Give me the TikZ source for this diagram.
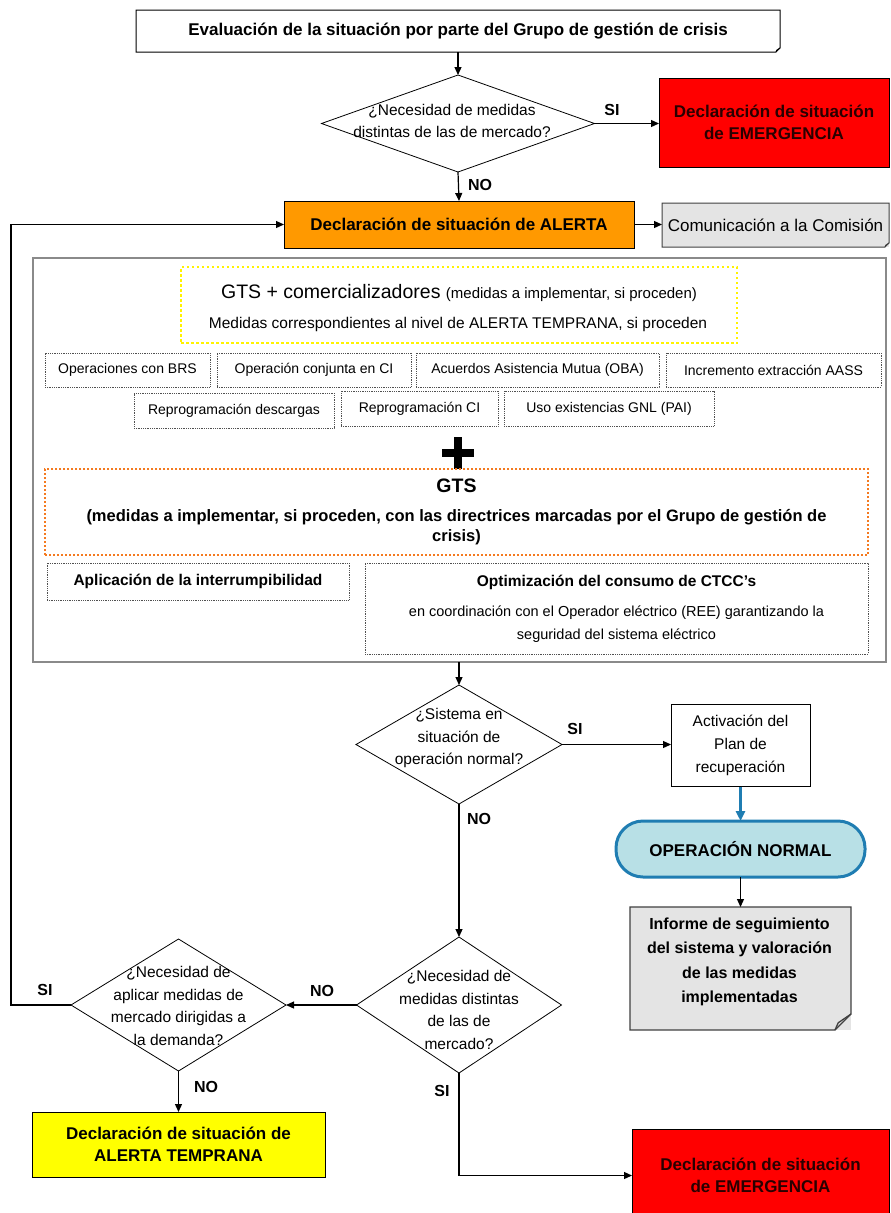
\documentclass[tikz,border=0pt]{standalone}
\usepackage{fontspec}
\setmainfont{Liberation Sans}
\usetikzlibrary{arrows.meta,shapes.geometric,calc}

\definecolor{alertorange}{HTML}{FF9900}
\definecolor{emred}{HTML}{FF0000}
\definecolor{emtext}{HTML}{2A0000}
\definecolor{earlyyellow}{HTML}{FFFF00}
\definecolor{notegrey}{HTML}{E4E4E4}
\definecolor{noteedge}{HTML}{404040}
\definecolor{framegrey}{HTML}{8A8A8A}
\definecolor{pillblue}{HTML}{1F7DB2}
\definecolor{pillfill}{HTML}{B8E0E6}
\definecolor{dotorange}{HTML}{F47A20}
\definecolor{dotyellow}{HTML}{FFF200}
\definecolor{dotgrey}{HTML}{505050}

% outline of a box whose lower right corner is folded over
\newcommand\drawfold[3][]{%
  \draw[#1] (#2.north west) -- (#2.north east) -- ([yshift=#3]#2.south east)
    -- ([xshift=-#3]#2.south east) -- (#2.south west) -- cycle;
  \draw[#1] ([yshift=#3]#2.south east) -- ([xshift=-#3*0.8,yshift=#3*0.45]#2.south east)
    -- ([xshift=-#3]#2.south east);
}

\begin{document}
\begin{tikzpicture}[x=1pt,y=-1pt,
  every node/.style={inner sep=0pt, outer sep=0pt},
  flow/.style={line width=1.2pt, -{Triangle[length=8pt,width=7pt]}},
  boxtxt/.style={font=\fontsize{17}{22}\selectfont\bfseries, align=center},
  ask/.style={diamond, draw, line width=0.8pt, fill=white},
  asktxt/.style={font=\fontsize{15.5}{22.5}\selectfont, align=center},
  measure/.style={draw=dotgrey, densely dotted, line width=0.8pt,
                  font=\fontsize{14}{17}\selectfont},
  answer/.style={font=\fontsize{16}{18}\selectfont\bfseries},
  emergency/.style={draw, line width=0.8pt, fill=emred, boxtxt, text=emtext},
]
\useasboundingbox (0,0) rectangle (891,1213);
\fill[white] (0,0) rectangle (891,1213);

% ---------- top of the chart ----------
\node[boxtxt, fill=white, minimum width=644, minimum height=42] (eval) at (458,31)
  {Evaluación de la situación por parte del Grupo de gestión de crisis};
\drawfold[line width=1pt]{eval}{4}

\node[ask, minimum width=273, minimum height=97] (d1) at (458,123.5) {};
\node[asktxt] (d1t) at (452,121) {¿Necesidad de medidas\\distintas de las de mercado?};

\node[emergency, minimum width=230, minimum height=89] (em1) at (774,122.5)
  {Declaración de situación\\de EMERGENCIA};

\node[boxtxt, draw, line width=0.8pt, fill=alertorange, minimum width=350, minimum height=47]
  (alert) at (459,224.5) {Declaración de situación de ALERTA};

\node[fill=notegrey, minimum width=227, minimum height=44,
      font=\fontsize{17}{20}\selectfont] (com) at (775.5,225) {Comunicación a la Comisión};
\drawfold[line width=1pt, draw=noteedge]{com}{4}

\draw[flow] (eval.south) -- (d1.north);
\draw[flow] (d1.east) -- (d1.east -| em1.west);
\draw[flow] (d1.south) -- (alert.north);
\draw[flow] (alert.east) -- (alert.east -| com.west);
\node[answer] (si1) at (612,110) {SI};
\node[answer] (no1) at (480,185) {NO};

% ---------- measures frame ----------
\node[draw=framegrey, line width=2.5pt, minimum width=853, minimum height=404] (frame)
  at (459.5,460) {};

\node[draw=dotyellow, line width=2.5pt, dash pattern=on 2.5pt off 2.5pt,
      minimum width=556, minimum height=76] (gtsc) at (459,305) {};
\node[font=\fontsize{19.5}{22}\selectfont] (gtsct) at (459,293)
  {GTS + comercializadores {\fontsize{15}{18}\selectfont(medidas a implementar, si proceden)}};
\node[font=\fontsize{15.5}{18}\selectfont] (gtscb) at (458,324)
  {Medidas correspondientes al nivel de ALERTA TEMPRANA, si proceden};

\node[measure, minimum width=165, minimum height=34] (m1) at (127.5,370) {Operaciones con BRS};
\node[measure, minimum width=194, minimum height=34] (m2) at (314,370) {Operación conjunta en CI};
\node[measure, minimum width=243, minimum height=34] (m3) at (537.5,370) {Acuerdos Asistencia Mutua (OBA)};
\node[measure, minimum width=215, minimum height=34] (m4) at (773.5,370) {Incremento extracción AASS};
\node[measure, minimum width=200, minimum height=35] (m5) at (234,410.5) {Reprogramación descargas};
\node[measure, minimum width=157, minimum height=35] (m6) at (419.5,408.5) {Reprogramación CI};
\node[measure, minimum width=210, minimum height=35] (m7) at (609,408.5) {Uso existencias GNL (PAI)};

% heavy plus sign joining both groups of measures
\node[minimum size=32] (plus) at (458,453) {};
\draw[line width=8pt] (plus.west) -- (plus.east);
\draw[line width=8pt] (plus.north) -- (plus.south);

\node[draw=dotorange, line width=2pt, dash pattern=on 2pt off 2pt,
      minimum width=823, minimum height=86] (gts) at (456.5,512) {};
\node[font=\fontsize{19.5}{22}\selectfont\bfseries] (gtst) at (456.5,486) {GTS};
\node[font=\fontsize{16.5}{20}\selectfont\bfseries, align=center] (gtsb) at (456.5,527)
  {(medidas a implementar, si proceden, con las directrices marcadas por el Grupo de gestión de\\crisis)};

\node[measure, minimum width=302, minimum height=37,
      font=\fontsize{15.5}{18}\selectfont\bfseries] (apl) at (198,581.5)
  {Aplicación de la interrumpibilidad};
\node[measure, minimum width=503, minimum height=91] (opt) at (616.5,608.5) {};
\node[font=\fontsize{15.5}{18}\selectfont\bfseries] (optt) at (616.5,582)
  {Optimización del consumo de CTCC’s};
\node[font=\fontsize{14.5}{23}\selectfont, align=center] (optb) at (616.5,624.5)
  {en coordinación con el Operador eléctrico (REE) garantizando la\\seguridad del sistema eléctrico};

% ---------- normal-operation check ----------
\node[ask, minimum width=206, minimum height=119] (d2) at (459,744.5) {};
\node[asktxt] (d2t) at (459,738) {¿Sistema en\\situación de\\operación normal?};

\node[draw, line width=0.8pt, minimum width=139, minimum height=82, align=center,
      font=\fontsize{15.5}{23}\selectfont] (act) at (740.5,745.5)
  {Activación del\\Plan de\\recuperación};

\node[draw=pillblue, line width=3pt, fill=pillfill, rounded corners=27,
      minimum width=249, minimum height=56, font=\fontsize{17}{20}\selectfont\bfseries] (pill)
  at (740.5,849) {OPERACIÓN NORMAL};

\node[fill=notegrey, minimum width=221, minimum height=123] (inf) at (740.5,968.5) {};
\drawfold[line width=1.3pt, draw=noteedge]{inf}{16}
\node[font=\fontsize{16}{24.5}\selectfont\bfseries, align=center] (inft) at (739.5,962)
  {Informe de seguimiento\\del sistema y valoración\\de las medidas\\implementadas};

\draw[flow] (d2.north |- frame.south) -- (d2.north);
\draw[flow] (d2.east) -- (d2.east -| act.west);
\draw[pillblue, line width=3pt, -{Triangle[length=10pt,width=9pt]}] (act.south) -- (pill.north);
\draw[flow] (pill.south) -- (inf.north);
\node[answer] (si2) at (575,729) {SI};
\node[answer] (no2) at (479,819) {NO};

% ---------- market measures checks ----------
\node[ask, minimum width=205, minimum height=136] (d3) at (459,1005) {};
\node[asktxt] (d3t) at (459,1010) {¿Necesidad de\\medidas distintas\\de las de\\mercado?};

\node[ask, minimum width=215, minimum height=132] (d4) at (178.5,1005) {};
\node[asktxt] (d4t) at (178.5,1006) {¿Necesidad de\\aplicar medidas de\\mercado dirigidas a\\la demanda?};

\node[boxtxt, draw, line width=0.8pt, fill=earlyyellow, minimum width=293, minimum height=65]
  (early) at (178.5,1144.5) {Declaración de situación de\\ALERTA TEMPRANA};

\node[emergency, minimum width=257, minimum height=93] (em2) at (760.5,1175.5)
  {Declaración de situación\\de EMERGENCIA};

\coordinate (back) at (11,1005);
\draw[flow] (d2.south) -- (d3.north);
\draw[flow] (d3.west) -- (d4.east);
\draw[flow] (d4.west) -- (back) |- (alert.west);
\draw[flow] (d4.south) -- (early.north);
\draw[flow] (d3.south) |- (em2.west);
\node[answer] (no3) at (322,991) {NO};
\node[answer] (si3) at (45,990) {SI};
\node[answer] (no4) at (206,1087) {NO};
\node[answer] (si4) at (442,1091) {SI};
\end{tikzpicture}
\end{document}
